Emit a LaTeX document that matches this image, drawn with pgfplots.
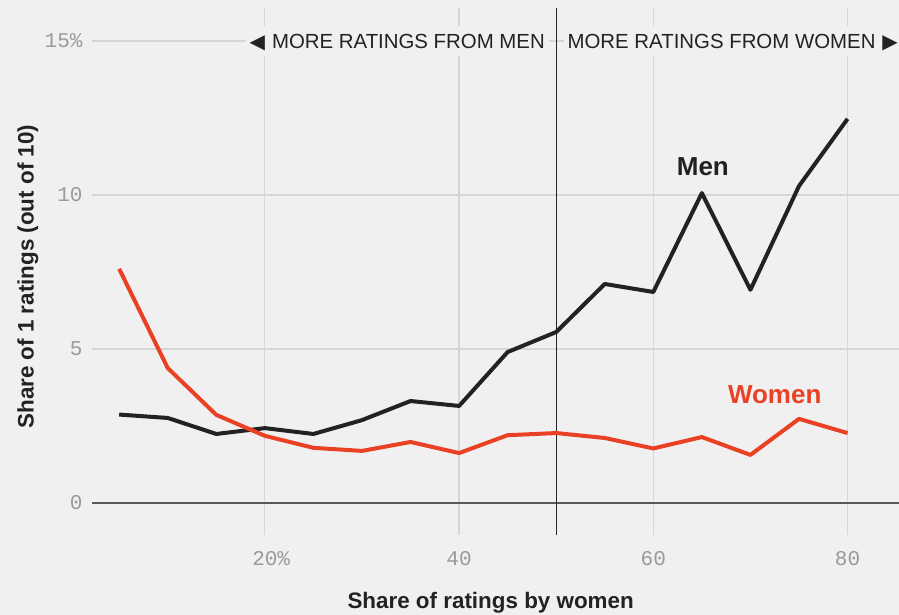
\documentclass[border=0pt]{standalone}
\usepackage{pgfplots}
\pgfplotsset{compat=1.18}
\usepackage{fontspec}
\setmainfont{Liberation Sans}
\setmonofont{Liberation Mono}
\newfontfamily\dejavu{DejaVu Sans}
\definecolor{bg}{HTML}{F0F0F0}
\definecolor{gridc}{HTML}{D6D6D6}
\definecolor{tickc}{HTML}{9A9A9A}
\definecolor{menc}{HTML}{222222}
\definecolor{womenc}{HTML}{EA4125}
\begin{document}
\begin{tikzpicture}
\path[use as bounding box, fill=bg] (-46pt,-40pt) rectangle (403.5pt,267.5pt);
\begin{axis}[
  scale only axis, width=403.5pt, height=263.5pt,
  xmin=2.2, xmax=85.3, ymin=-1.04, ymax=16.07,
  axis line style={draw=none},
  major tick length=0pt,
  xtick={20,40,60,80}, xticklabels={20\rlap{\%},40,60,80},
  ytick={0,5,10,15}, yticklabels={0,5,10,15\%},
  grid=major,
  major grid style={gridc, line width=0.6pt},
  /pgf/number format/assume math mode=true,
  ticklabel style={font=\ttfamily\fontsize{10.5}{12}\selectfont, text=tickc},
  xticklabel style={yshift=-4.7pt},
  yticklabel style={xshift=-1.2pt},
  xlabel={Share of ratings by women},
  ylabel={Share of 1 ratings (out of 10)},
  label style={font=\bfseries\fontsize{11.2}{13}\selectfont, text=menc},
  xlabel style={at={(axis description cs:0.494,-0.129)}, anchor=center},
  ylabel style={at={(axis description cs:-0.0793,0.49)}, anchor=center},
  clip=false,
]
\draw[color=black!65, line width=0.9pt] (axis cs:2.2,0) -- (axis cs:85.3,0);
\node[anchor=east, fill=bg, inner xsep=2pt, inner ysep=3.9pt, text height=7.2pt, text depth=0pt,
  font=\fontsize{10.2}{12}\selectfont, text=menc, xshift=-3.5pt]
  at (axis cs:50,15) {{\dejavu\fontsize{10}{10}\selectfont ◀}\hspace{3.5pt}MORE RATINGS FROM MEN};
\node[anchor=west, fill=bg, inner xsep=2pt, inner ysep=3.9pt, text height=7.2pt, text depth=0pt,
  font=\fontsize{10.2}{12}\selectfont, text=menc, xshift=3.5pt]
  at (axis cs:50,15) {MORE RATINGS FROM WOMEN\hspace{3.5pt}{\dejavu\fontsize{10}{10}\selectfont ▶}};
\draw[color=black!85, line width=0.7pt] (axis cs:50,-1.04) -- (axis cs:50,16.07);
\addplot[menc, line width=2pt, line join=round] coordinates {
(5,2.87) (10,2.76) (15,2.24) (20,2.43) (25,2.24) (30,2.69) (35,3.31) (40,3.15)
(45,4.90) (50,5.55) (55,7.11) (60,6.85) (65,10.06) (70,6.92) (75,10.29) (80,12.47)
};
\addplot[womenc, line width=2pt, line join=round] coordinates {
(5,7.60) (10,4.38) (15,2.86) (20,2.18) (25,1.79) (30,1.69) (35,1.98) (40,1.62)
(45,2.20) (50,2.27) (55,2.11) (60,1.77) (65,2.14) (70,1.56) (75,2.73) (80,2.27)
};
\node[font=\bfseries\fontsize{13}{15}\selectfont, text=menc, text height=9.3pt, text depth=0pt, inner sep=0pt]
  at (axis cs:65.1,10.94) {Men};
\node[font=\bfseries\fontsize{13}{15}\selectfont, text=womenc, text height=9.3pt, text depth=0pt, inner sep=0pt]
  at (axis cs:72.5,3.54) {Women};
\end{axis}
\end{tikzpicture}
\end{document}
